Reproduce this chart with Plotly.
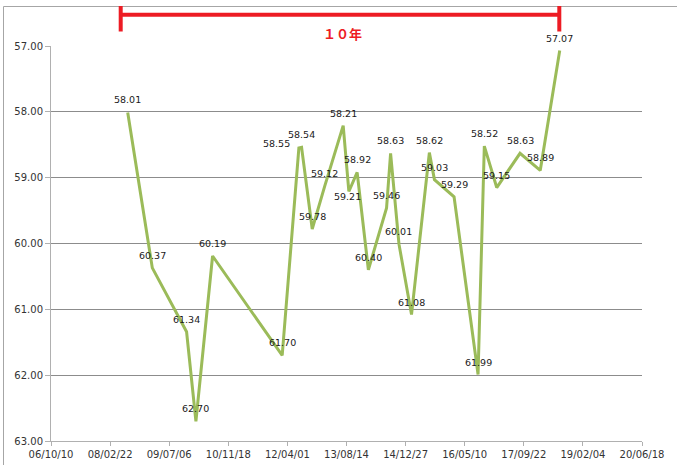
import plotly.graph_objects as go

# ---- data ----
dates = [
    "2008-07-20", "2009-02-13", "2009-11-30", "2010-02-17", "2010-07-08",
    "2012-02-17", "2012-07-07", "2012-07-30", "2012-10-28", "2013-02-12",
    "2013-07-17", "2013-09-03", "2013-11-12", "2014-02-15", "2014-07-19",
    "2014-08-22", "2014-11-01", "2015-02-15", "2015-07-16", "2015-08-28",
    "2016-02-10", "2016-08-31", "2016-10-23", "2017-02-05", "2017-08-21",
    "2018-02-08", "2018-07-23",
]
values = [
    58.01, 60.37, 61.34, 62.70, 60.19,
    61.70, 58.55, 58.54, 59.78, 59.12,
    58.21, 59.21, 58.92, 60.40, 59.46,
    58.63, 60.01, 61.08, 58.62, 59.03,
    59.29, 61.99, 58.52, 59.15, 58.63,
    58.89, 57.07,
]
y_ticks = [57, 58, 59, 60, 61, 62, 63]
x_start = "2006-10-10"
x_end = "2020-06-18"
span_label = "１０年"

W, H = 677, 465
L, R, T, B = 51, 35, 46, 24
pw, ph = W - L - R, H - T - B


def px(xp):
    return (xp - L) / pw


def py(yp):
    return (H - B - yp) / ph


fig = go.Figure()
fig.add_trace(go.Scatter(
    x=dates, y=values, mode="lines",
    line=dict(color="#9BBB59", width=3),
    showlegend=False,
))

# data labels (offsets in pixels)
label_shift = [(0, 12.5)] * len(values)
label_shift[6] = (-22, 5)    # 58.55 to the left
label_shift[11] = (-1, -5)   # 59.21 below

annotations = []
for d, v, (dx, dy) in zip(dates, values, label_shift):
    annotations.append(dict(
        x=d, y=v, xref="x", yref="y", text=f"{v:.2f}", showarrow=False,
        xanchor="center", yanchor="middle", xshift=dx, yshift=dy,
        font=dict(family="DejaVu Sans", size=9.5, color="#1a1a1a"),
    ))

red = "#ED1C24"
annotations.append(dict(
    xref="paper", yref="paper", x=px(342.7), y=py(33.5),
    text=f"<b>{span_label}</b>", showarrow=False,
    font=dict(family="Noto Sans CJK JP", size=13, color=red),
    xanchor="center", yanchor="middle",
))

frame = "#a6a6a6"
shapes = [
    # outer frame (top & left visible)
    dict(type="line", xref="paper", yref="paper", x0=px(3.5), x1=px(W), y0=py(6.5), y1=py(6.5),
         line=dict(color=frame, width=1)),
    dict(type="line", xref="paper", yref="paper", x0=px(3.5), x1=px(3.5), y0=py(6.5), y1=py(H),
         line=dict(color=frame, width=1)),
    # red bracket
    dict(type="line", xref="paper", yref="paper", x0=px(120.7), x1=px(559.3), y0=py(14.7), y1=py(14.7),
         line=dict(color=red, width=4)),
    dict(type="line", xref="paper", yref="paper", x0=px(120.7), x1=px(120.7), y0=py(6), y1=py(31.5),
         line=dict(color=red, width=4)),
    dict(type="line", xref="paper", yref="paper", x0=px(559.3), x1=px(559.3), y0=py(6), y1=py(31.5),
         line=dict(color=red, width=4)),
]

fig.update_layout(
    width=W, height=H,
    margin=dict(l=L, r=R, t=T, b=B, pad=0, autoexpand=False),
    paper_bgcolor="white", plot_bgcolor="white",
    font=dict(family="DejaVu Sans", size=10, color="#404040"),
    shapes=shapes,
    annotations=annotations,
    xaxis=dict(
        type="date", range=[x_start, x_end],
        tick0=x_start, dtick=500 * 86400000,
        tickformat="%y/%m/%d",
        showgrid=False, showline=True, linecolor="#b0b0b0", linewidth=1,
        ticks="outside", ticklen=4, tickcolor="#b0b0b0",
        tickfont=dict(family="DejaVu Sans", size=10, color="#333333"),
        zeroline=False, fixedrange=True, automargin=False,
    ),
    yaxis=dict(
        range=[63, 57], tickvals=y_ticks, tickformat=".2f",
        showgrid=True, gridcolor="#8c8c8c", gridwidth=1,
        showline=True, linecolor="#b0b0b0", linewidth=1,
        ticks="outside", ticklen=5, tickcolor="#b0b0b0",
        tickfont=dict(family="DejaVu Sans", size=10, color="#333333"),
        zeroline=False, fixedrange=True, automargin=False,
    ),
)

fig.write_html(
    "out.html",
    config={"displayModeBar": False},
    post_script="document.body.style.margin='0';document.body.style.padding='0';",
)
